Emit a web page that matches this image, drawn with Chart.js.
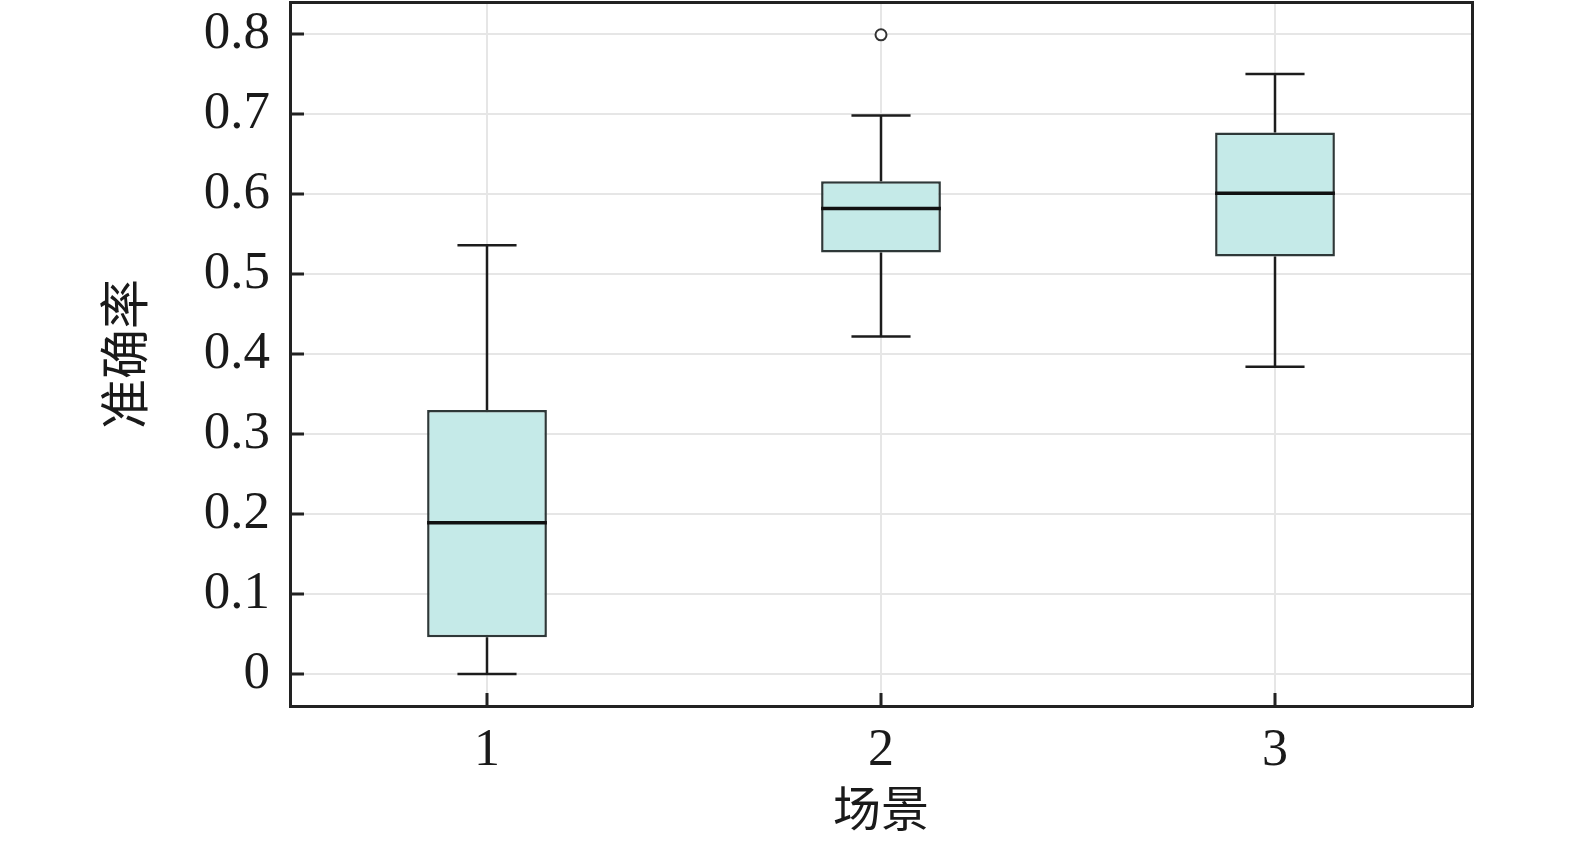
<!DOCTYPE html>
<html>
<head>
<meta charset="utf-8">
<script src="https://cdn.jsdelivr.net/npm/chart.js@4.4.1/dist/chart.umd.min.js"></script>
<style>
  body { margin: 0; background: #fff; }
  canvas { display: block; }
</style>
</head>
<body>
<canvas id="boxChart" width="1575" height="850"></canvas>
<script>
// data
const scenes = [1, 2, 3];
const whiskerLow = [0.0, 0.422, 0.384];
const quart1 = [0.046, 0.527, 0.522];
const medians = [0.189, 0.582, 0.601];
const quart3 = [0.330, 0.616, 0.677];
const whiskerHigh = [0.536, 0.698, 0.750];
const outliers = [{ x: 2, y: 0.799 }];
const yTicks = [0, 0.1, 0.2, 0.3, 0.4, 0.5, 0.6, 0.7, 0.8];

const serif = "'Liberation Serif', 'Times New Roman', 'Noto Sans CJK SC', serif";
const capHalf = 0.075;
const boxHalf = 0.152;
const gap = (x) => ({ x: x, y: null });

// whisker stems + caps, split with null gaps
const whiskerPts = [];
scenes.forEach((s, i) => {
    whiskerPts.push({ x: s, y: quart1[i] }, { x: s, y: whiskerLow[i] }, gap(s));
    whiskerPts.push({ x: s - capHalf, y: whiskerLow[i] }, { x: s + capHalf, y: whiskerLow[i] }, gap(s));
    whiskerPts.push({ x: s, y: quart3[i] }, { x: s, y: whiskerHigh[i] }, gap(s));
    whiskerPts.push({ x: s - capHalf, y: whiskerHigh[i] }, { x: s + capHalf, y: whiskerHigh[i] }, gap(s));
});

const medianPts = [];
scenes.forEach((s, i) => {
    medianPts.push({ x: s - boxHalf, y: medians[i] }, { x: s + boxHalf, y: medians[i] }, gap(s));
});

// little inward tick marks like the original
const innerTicks = {
    id: 'innerTicks',
    afterDraw(chart) {
        const { ctx, chartArea } = chart;
        const xs = chart.scales.x, ys = chart.scales.y;
        ctx.save();
        ctx.strokeStyle = '#222';
        ctx.lineWidth = 3;
        ctx.beginPath();
        yTicks.forEach(v => {
            const py = ys.getPixelForValue(v);
            ctx.moveTo(chartArea.left, py);
            ctx.lineTo(chartArea.left + 14, py);
        });
        scenes.forEach(v => {
            const px = xs.getPixelForValue(v);
            ctx.moveTo(px, chartArea.bottom);
            ctx.lineTo(px, chartArea.bottom - 13);
        });
        ctx.stroke();
        ctx.restore();
    }
};

const noPad = (scale) => {
    scale.paddingTop = 0;
    scale.paddingBottom = 0;
    scale.paddingLeft = 0;
    scale.paddingRight = 0;
};

const ctx = document.getElementById('boxChart').getContext('2d');
new Chart(ctx, {
    type: 'bar',
    data: {
        datasets: [
            {
                type: 'bar',
                data: scenes.map((s, i) => ({ x: s, y: [quart1[i], quart3[i]] })),
                backgroundColor: 'rgb(197, 234, 232)',
                borderColor: '#2e3838',
                borderWidth: 2.5,
                borderSkipped: false,
                barPercentage: boxHalf * 2,
                categoryPercentage: 1,
                order: 3
            },
            {
                type: 'line',
                data: whiskerPts,
                borderColor: '#1c1c1c',
                borderWidth: 2.5,
                pointRadius: 0,
                spanGaps: false,
                order: 2
            },
            {
                type: 'line',
                data: medianPts,
                borderColor: '#111',
                borderWidth: 3.5,
                pointRadius: 0,
                spanGaps: false,
                order: 1
            },
            {
                type: 'line',
                data: outliers,
                showLine: false,
                pointRadius: 5.5,
                pointBorderWidth: 2,
                pointBackgroundColor: '#fff',
                pointBorderColor: '#333',
                order: 0
            }
        ]
    },
    options: {
        responsive: false,
        devicePixelRatio: 1,
        animation: false,
        layout: { autoPadding: false, padding: { top: 2, right: 103, left: 0, bottom: 0 } },
        plugins: { legend: { display: false }, tooltip: { enabled: false } },
        scales: {
            x: {
                type: 'linear',
                position: 'bottom',
                min: 0.5,
                max: 3.5,
                offset: false,
                afterBuildTicks: (scale) => { scale.ticks = scenes.map(v => ({ value: v })); },
                afterFit: (scale) => { scale.height = 144; noPad(scale); },
                grid: { color: '#e6e6e6', lineWidth: 2, drawTicks: false, offset: false },
                border: { color: '#222', width: 3 },
                ticks: {
                    padding: 14,
                    color: '#1a1a1a',
                    font: { family: serif, size: 52 },
                    callback: (v) => String(v)
                },
                title: {
                    display: true,
                    text: '场景',
                    color: '#1a1a1a',
                    font: { family: serif, size: 48 },
                    padding: { top: 0, bottom: 8 }
                }
            },
            y: {
                type: 'linear',
                position: 'left',
                min: -0.04,
                max: 0.84,
                afterBuildTicks: (scale) => { scale.ticks = yTicks.map(v => ({ value: v })); },
                afterFit: (scale) => { scale.width = 290; noPad(scale); },
                grid: { color: '#e6e6e6', lineWidth: 2, drawTicks: false },
                border: { color: '#222', width: 3 },
                ticks: {
                    padding: 20,
                    color: '#1a1a1a',
                    font: { family: serif, size: 53 },
                    callback: (v) => String(v)
                },
                title: {
                    display: true,
                    text: '准确率',
                    color: '#1a1a1a',
                    font: { family: serif, size: 50 },
                    padding: { top: 100, bottom: 0 }
                }
            },
            xTop: {
                type: 'linear',
                position: 'top',
                min: 0.5,
                max: 3.5,
                offset: false,
                afterFit: (scale) => { scale.height = 0; noPad(scale); },
                grid: { display: false },
                ticks: { display: false },
                border: { color: '#222', width: 3 }
            },
            yRight: {
                type: 'linear',
                position: 'right',
                min: -0.04,
                max: 0.84,
                afterFit: (scale) => { scale.width = 0; noPad(scale); },
                grid: { display: false },
                ticks: { display: false },
                border: { color: '#222', width: 3 }
            }
        }
    },
    plugins: [innerTicks]
});
</script>
</body>
</html>
